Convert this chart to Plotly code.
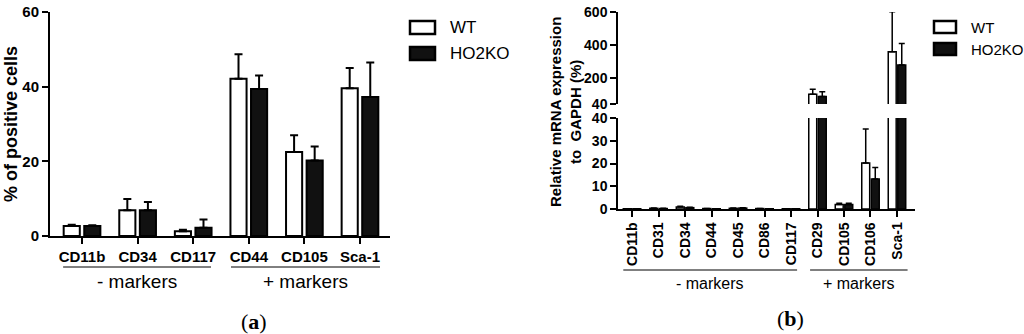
import plotly.graph_objects as go

# panel (a): flow cytometry
cats_a = ["CD11b", "CD34", "CD117", "CD44", "CD105", "Sca-1"]
wt_a = [2.7, 6.9, 1.3, 42.1, 22.5, 39.6]
wt_a_err = [0.3, 3.0, 0.4, 6.6, 4.5, 5.4]
ko_a = [2.7, 6.9, 2.2, 39.4, 20.2, 37.2]
ko_a_err = [0.2, 2.2, 2.2, 3.6, 3.8, 9.3]

# panel (b): relative mRNA expression
cats_b = ["CD11b", "CD31", "CD34", "CD44", "CD45", "CD86", "CD117",
          "CD29", "CD105", "CD106", "Sca-1"]
wt_b = [0.1, 0.3, 0.9, 0.2, 0.3, 0.2, 0.1, 99, 2.0, 20.2, 358]
wt_b_err = [0, 0.1, 0.3, 0, 0.1, 0, 0, 31, 0.5, 15, 244]
ko_b = [0.1, 0.2, 0.6, 0.1, 0.4, 0.1, 0.1, 85, 2.0, 13.2, 277]
ko_b_err = [0, 0.1, 0.2, 0, 0.1, 0, 0, 30, 0.5, 5, 131]

W, H = 1024, 334
SANS = "Arial, Liberation Sans, sans-serif"
SERIF = "Times New Roman, Liberation Serif, serif"
KO_COLOR = "#111111"


def px(x):
    return x / W


def py(y):
    return 1 - y / H


def bar(x, y, err, name, xa, ya, fill, width, offset, lw, ew, cap):
    return go.Bar(
        x=x, y=y, name=name, xaxis=xa, yaxis=ya,
        width=width, offset=offset, showlegend=False,
        marker=dict(color=fill, line=dict(color="black", width=lw)),
        error_y=dict(type="data", symmetric=False, array=err,
                     arrayminus=[0] * len(err), color="black",
                     thickness=ew, width=cap),
    )


fig = go.Figure()

# (a)
fig.add_trace(bar(cats_a, wt_a, wt_a_err, "WT", "x", "y", "white", 0.29, -0.33, 2, 2, 4))
fig.add_trace(bar(cats_a, ko_a, ko_a_err, "HO2KO", "x", "y", KO_COLOR, 0.29, 0.04, 2, 2, 4))

# (b) lower and upper segments of the broken axis
for ya in ["y2", "y3"]:
    fig.add_trace(bar(cats_b, wt_b, wt_b_err, "WT", "x2", ya, "white", 0.3, -0.33, 1.5, 1.5, 3))
    fig.add_trace(bar(cats_b, ko_b, ko_b_err, "HO2KO", "x2", ya, KO_COLOR, 0.3, 0.03, 1.5, 1.5, 3))


def axis_style(size, lw):
    return dict(showline=True, linecolor="black", linewidth=lw, ticks="outside",
                tickcolor="black", tickwidth=lw, ticklen=6, showgrid=False,
                zeroline=False, automargin=False,
                tickfont=dict(family=SANS, size=size, color="black", weight="bold"))


fig.update_layout(
    width=W, height=H,
    margin=dict(l=0, r=0, t=0, b=0, autoexpand=False),
    plot_bgcolor="white", paper_bgcolor="white",
    barmode="overlay",
    xaxis=dict(domain=[px(50), px(390)], anchor="y", type="category",
               range=[-0.576, 5.54], **axis_style(15, 2)),
    yaxis=dict(domain=[py(236), py(12)], anchor="x", range=[0, 60],
               tickvals=[0, 20, 40, 60], **axis_style(15, 2)),
    xaxis2=dict(domain=[px(618), px(915)], anchor="y2", type="category",
                range=[-0.53, 10.68], tickangle=-90, **axis_style(14, 1.5)),
    yaxis2=dict(domain=[py(209), py(118)], anchor="x2", range=[0, 40],
                tickvals=[0, 10, 20, 30, 40], **axis_style(14, 1.5)),
    yaxis3=dict(domain=[py(104), py(12)], anchor="x2", range=[40, 600],
                tickvals=[40, 200, 400, 600], **axis_style(14, 1.5)),
)

shapes = []
annotations = []

# group brackets
brackets = [
    ("x", -0.34, 2.32, 267, "- markers", 0.5 * (-0.34 + 2.32), 281, 19),
    ("x", 2.68, 5.36, 267, "+ markers", 0.5 * (2.68 + 5.36), 281, 19),
    ("x2", -0.33, 6.23, 270, "- markers", 2.95, 283, 16),
    ("x2", 6.72, 10.4, 270, "+ markers", 8.56, 283, 16),
]
for xr, x0, x1, yl, label, xc, yt, fs in brackets:
    shapes.append(dict(type="line", xref=xr, yref="paper", x0=x0, x1=x1,
                       y0=py(yl), y1=py(yl), line=dict(color="black", width=1)))
    annotations.append(dict(text=label, xref=xr, yref="paper", x=xc, y=py(yt),
                            xanchor="center", yanchor="middle", showarrow=False,
                            font=dict(family=SANS, size=fs, color="black")))

# manual legends
legends = [
    (410, 435, [(21, 34), (47, 60)], 448, 17),
    (934, 956, [(21, 33), (43, 55)], 969, 15),
]
for x0, x1, boxes, xt, fs in legends:
    for (y0, y1), name, fill in zip(boxes, ["WT", "HO2KO"], ["white", KO_COLOR]):
        shapes.append(dict(type="rect", xref="paper", yref="paper",
                           x0=px(x0), x1=px(x1), y0=py(y1), y1=py(y0),
                           fillcolor=fill, line=dict(color="black", width=2.5)))
        annotations.append(dict(text=name, xref="paper", yref="paper",
                                x=px(xt), y=py((y0 + y1) / 2), xanchor="left",
                                yanchor="middle", showarrow=False,
                                font=dict(family=SANS, size=fs, color="black")))

# axis titles
annotations.append(dict(text="% of positive cells", xref="paper", yref="paper",
                        x=px(11), y=py(124), textangle=-90, showarrow=False,
                        xanchor="center", yanchor="middle",
                        font=dict(family=SANS, size=18, color="black", weight="bold")))
annotations.append(dict(text="Relative mRNA expression<br>to  GAPDH (%)",
                        xref="paper", yref="paper", x=px(565), y=py(112),
                        textangle=-90, showarrow=False,
                        xanchor="center", yanchor="middle",
                        font=dict(family=SANS, size=15, color="black", weight="bold")))

# panel letters
for label, xc, yc in [("(<b>a</b>)", 254, 321), ("(<b>b</b>)", 790, 318)]:
    annotations.append(dict(text=label, xref="paper", yref="paper",
                            x=px(xc), y=py(yc), showarrow=False,
                            xanchor="center", yanchor="middle",
                            font=dict(family=SERIF, size=22, color="black")))

fig.update_layout(shapes=shapes, annotations=annotations)

fig.write_html("out.html", config={"displayModeBar": False},
               post_script="document.body.style.margin='0';")
